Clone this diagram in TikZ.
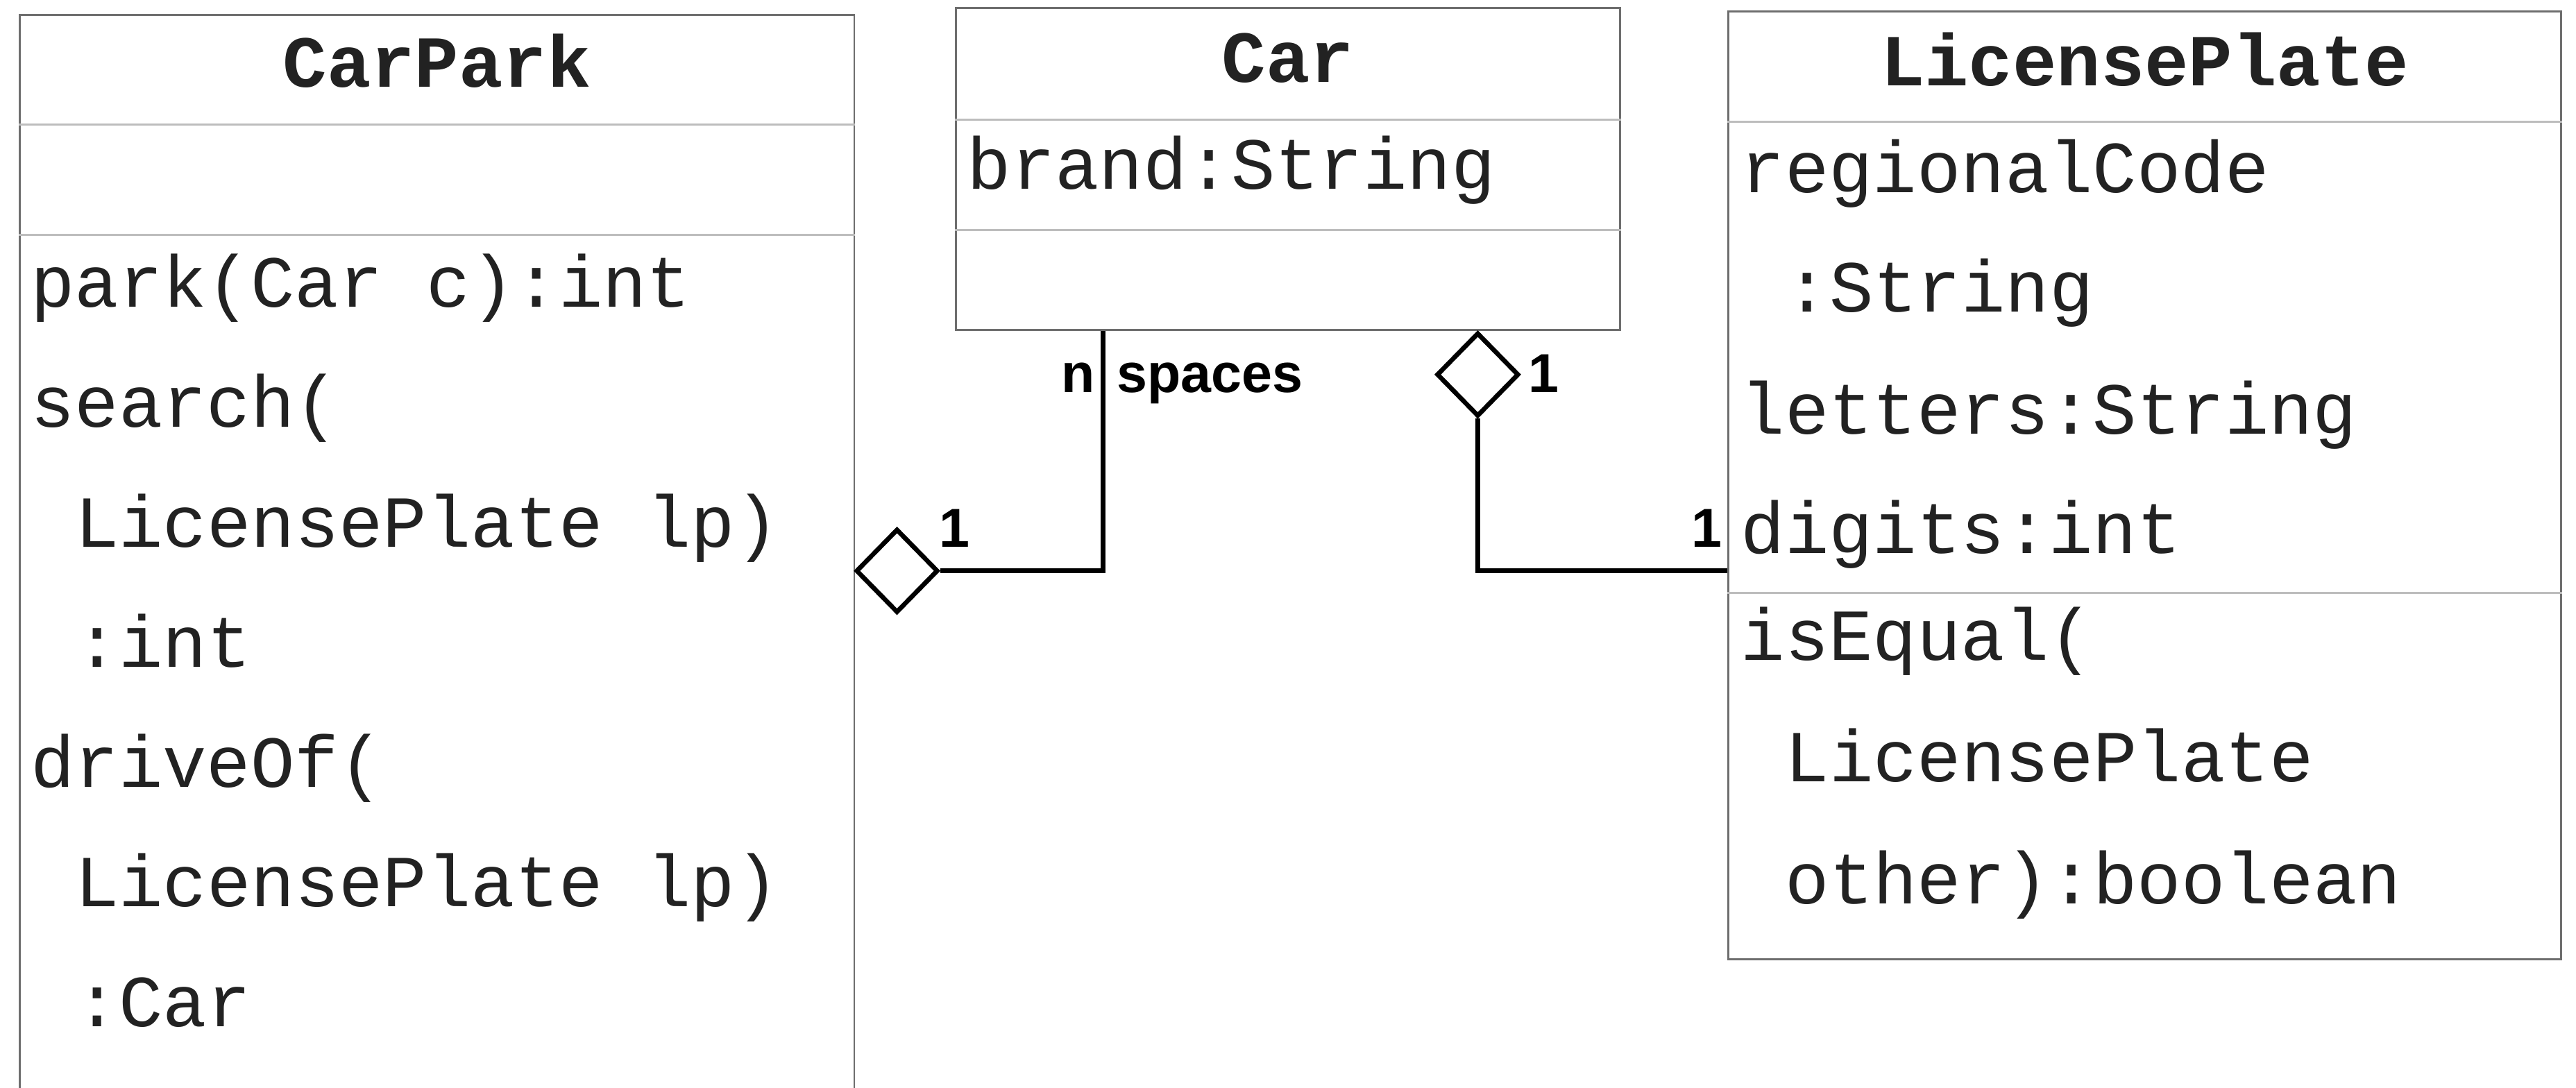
\documentclass[tikz,border=0pt]{standalone}
\usepackage{fontspec}
\setmonofont{Liberation Mono}
\setsansfont{Liberation Sans}
\usetikzlibrary{shapes.geometric,fit}
\definecolor{boxgray}{HTML}{6E6E6E}
\definecolor{sepgray}{HTML}{BDBDBD}
\definecolor{ink}{HTML}{222222}
\tikzset{
    classbox/.style={draw=boxgray, line width=0.35pt, inner sep=0pt},
    sepline/.style={draw=sepgray, line width=0.35pt},
    classtitle/.style={font=\fontsize{12.7}{15}\ttfamily\bfseries, text=ink, anchor=base, inner sep=0pt},
    member/.style={font=\fontsize{12.7}{15}\ttfamily, text=ink, anchor=base west, inner sep=0pt},
    mult/.style={font=\fontsize{9.5}{11}\sffamily\bfseries, inner sep=0pt},
    aggr/.style={draw, shape=diamond, line width=0.8pt, fill=white, minimum width=5mm, minimum height=5.1mm, inner sep=0pt},
    assoc/.style={draw, line width=0.8pt}
}
\begin{document}
\begin{tikzpicture}[x=0.1mm, y=-0.1mm]
    \useasboundingbox (0,0) rectangle (1568,662);
    \clip (0,0) rectangle (1568,662);
    % class boxes
    \node[classbox, fit={(12,9) (520,700)}] (carpark) {};
    \node[classbox, fit={(582,5) (986,201)}] (car) {};
    \node[classbox, fit={(1052,7) (1559,584)}] (lp) {};

    \draw[sepline] (carpark.west |- 0,76) -- (carpark.east |- 0,76);
    \draw[sepline] (carpark.west |- 0,143) -- (carpark.east |- 0,143);
    \draw[sepline] (car.west |- 0,73) -- (car.east |- 0,73);
    \draw[sepline] (car.west |- 0,140) -- (car.east |- 0,140);
    \draw[sepline] (lp.west |- 0,74) -- (lp.east |- 0,74);
    \draw[sepline] (lp.west |- 0,361) -- (lp.east |- 0,361);

    % CarPark
    \node[classtitle] (carpark-t) at (266,53) {CarPark};
    \node[member] (cp-1) at (18,187) {park(Car c):int};
    \node[member] (cp-2) at (18,260) {search(};
    \node[member] (cp-3) at (45,333) {LicensePlate lp)};
    \node[member] (cp-4) at (45,406) {:int};
    \node[member] (cp-5) at (18,479) {driveOf(};
    \node[member] (cp-6) at (45,552) {LicensePlate lp)};
    \node[member] (cp-7) at (45,625) {:Car};

    % Car
    \node[classtitle] (car-t) at (784,50) {Car};
    \node[member] (car-1) at (588,115) {brand:String};

    % LicensePlate
    \node[classtitle] (lp-t) at (1305.5,52) {LicensePlate};
    \node[member] (lp-1) at (1059,117) {regionalCode};
    \node[member] (lp-2) at (1086,190) {:String};
    \node[member] (lp-3) at (1059,264) {letters:String};
    \node[member] (lp-4) at (1059,337) {digits:int};
    \node[member] (lp-5) at (1059,402) {isEqual(};
    \node[member] (lp-6) at (1086,476) {LicensePlate};
    \node[member] (lp-7) at (1086,550) {other):boolean};

    % aggregations
    \node[aggr] (agg-park) at (546,347.5) {};
    \node[aggr] (agg-plate) at (899.5,228) {};
    \coordinate (spaces-end) at (671.5,201);
    \draw[assoc] (car.south -| spaces-end) |- (agg-park.east);
    \draw[assoc] (agg-plate.south) |- (lp.west |- agg-park.east);

    \node[mult, anchor=base east] (mult-n) at (667,239) {n};
    \node[mult, anchor=base west] (role) at (679,239) {spaces};
    \node[mult, anchor=base west] (mult-car) at (929.5,239) {1};
    \node[mult, anchor=base west] (mult-park) at (571,333) {1};
    \node[mult, anchor=base east] (mult-plate) at (1049,333) {1};
\end{tikzpicture}
\end{document}
